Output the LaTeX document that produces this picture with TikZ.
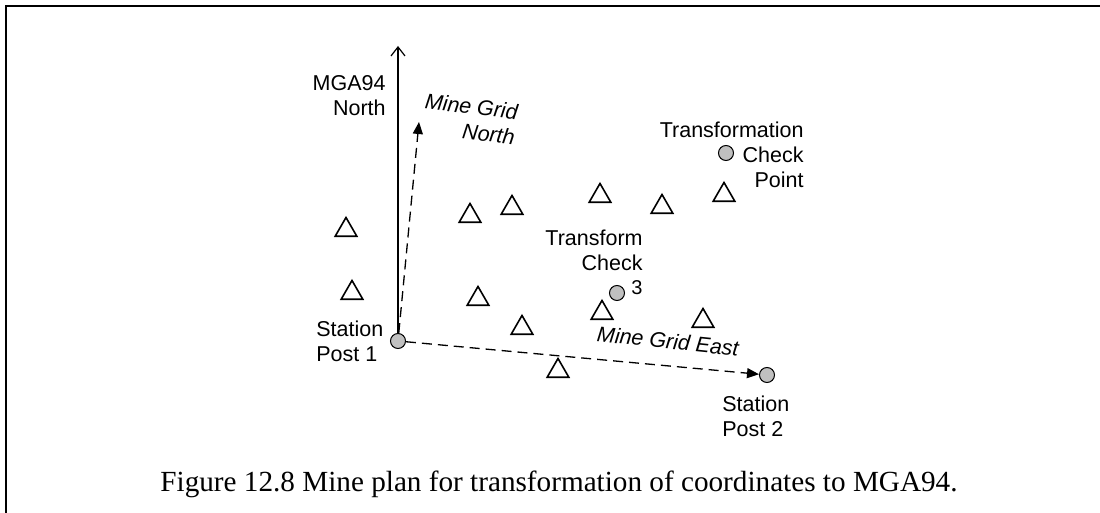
\documentclass[tikz,border=0pt]{standalone}
\usepackage{fontspec}
\setmainfont{Liberation Serif}
\setsansfont{Liberation Sans}
\usepackage{tikz}
\usetikzlibrary{positioning,arrows.meta,shapes.geometric}
\definecolor{mstnfill}{HTML}{C0C0C0}
\tikzset{mtri/.style={regular polygon, regular polygon sides=3, draw=black, line width=0.8pt, minimum size=12.5pt, inner sep=0pt}}
\tikzset{mstn/.style={circle, draw=black, fill=mstnfill, line width=0.5pt, minimum size=7.5pt, inner sep=0pt}}
\tikzset{mlabel/.style={font=\sffamily\fontsize{10.75}{12.5}\selectfont, inner sep=0pt}}
\tikzset{mgrid/.style={mlabel, font=\sffamily\itshape\fontsize{10.75}{12.5}\selectfont}}
\tikzset{mnorth/.style={-{Straight Barb[length=4.5pt, width=7pt]}, line width=0.6pt}}
\tikzset{mdash/.style={-{Triangle[length=6pt, width=5pt]}, line width=0.65pt, dash pattern=on 5pt off 3pt}}

\begin{document}
\begin{tikzpicture}[x=0.5pt, y=-0.5pt]
  \useasboundingbox (0,0) rectangle (1100,513);
  \draw[line width=1pt] (6,513) -- (6,6.5) -- (1100,6.5);

  % survey stations
  \node[mstn] (sp1) at (398,341) {};
  \node[mstn] (sp2) at (767,375) {};
  \node[mstn] (tc3) at (617,293) {};
  \node[mstn] (tcp) at (726,153) {};

  % ground marks
  \node[mtri] (t1) at (346,230) {};
  \node[mtri] (t2) at (352,293) {};
  \node[mtri] (t3) at (470,216) {};
  \node[mtri] (t4) at (512,208) {};
  \node[mtri] (t5) at (600,196) {};
  \node[mtri] (t6) at (662,207) {};
  \node[mtri] (t7) at (724,195) {};
  \node[mtri] (t8) at (478,299) {};
  \node[mtri] (t9) at (522,328) {};
  \node[mtri] (t10) at (602,313) {};
  \node[mtri] (t11) at (703,321) {};
  \node[mtri] (t12) at (558,371) {};

  \coordinate (mga) at (398,46);
  \coordinate (mgn) at (419,122);
  \draw[mnorth] (sp1) -- (mga);
  \draw[mdash] (sp1) -- (mgn);
  \draw[mdash] (sp1) -- (sp2);

  \node[mlabel, align=right, anchor=east] (mgalbl) at (386,96) {MGA94\\North};
  \node[mgrid, align=right, rotate=-7] (mgnlbl) at (470,119) {Mine Grid\\North};
  \node[mgrid, rotate=-6] (mgelbl) at (668,341) {Mine Grid East};
  \node[mlabel, align=left, anchor=west] (sp1lbl) at (316,341) {Station\\Post 1};
  \node[mlabel, align=left, anchor=west] (sp2lbl) at (722,416) {Station\\Post 2};
  \node[mlabel, align=right, anchor=east] (tc3lbl) at (643,250) {Transform\\Check};
  \node[mlabel, font=\sffamily\fontsize{10}{11}\selectfont] (tc3num) at (637,288) {3};
  \node[mlabel, align=right, anchor=east] (tcplbl) at (804,155) {Transformation\\Check\\Point};

  \node[font=\fontsize{14.6}{16}\selectfont, inner sep=0pt] (caption) at (559,484) {Figure 12.8 Mine plan for transformation of coordinates to MGA94.};
\end{tikzpicture}
\end{document}
